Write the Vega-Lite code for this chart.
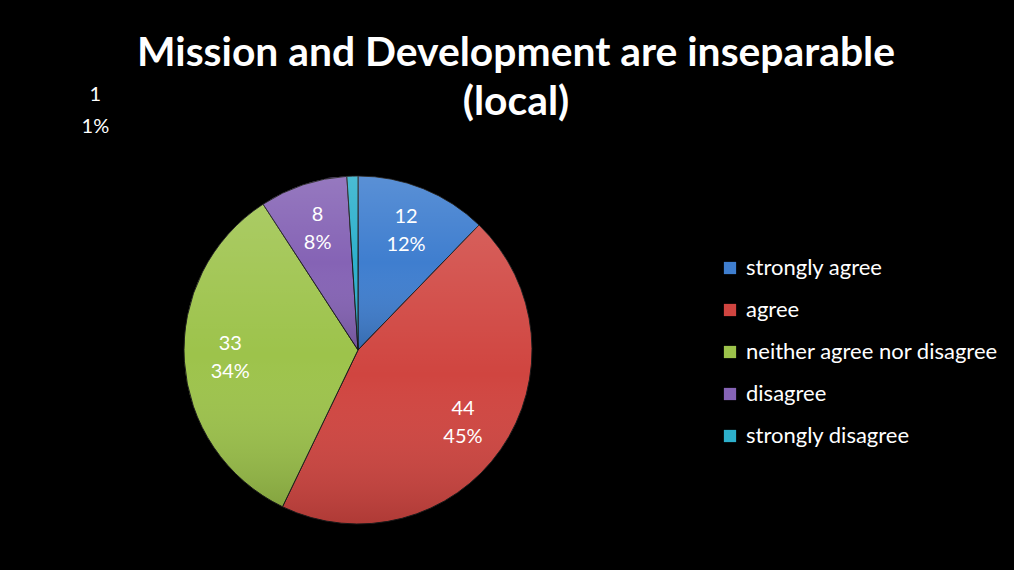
{
  "$schema": "https://vega.github.io/schema/vega-lite/v6.json",
  "autosize": {"type": "none"},
  "width": 348,
  "height": 348,
  "padding": {"left": 184, "top": 176, "right": 482, "bottom": 46},
  "background": "black",
  "title": {
    "text": ["Mission and Development are inseparable", "(local)"],
    "color": "white",
    "font": "Lato",
    "fontSize": 40.8,
    "fontWeight": "bold",
    "lineHeight": 49,
    "anchor": "middle",
    "frame": "group",
    "dx": 158,
    "offset": -39
  },
  "config": {"view": {"stroke": null}},
  "data": {
    "values": [
      {"response": "strongly agree", "count": 12, "pct": "12%", "order": 1},
      {"response": "agree", "count": 44, "pct": "45%", "order": 2},
      {"response": "neither agree nor disagree", "count": 33, "pct": "34%", "order": 3},
      {"response": "disagree", "count": 8, "pct": "8%", "order": 4},
      {"response": "strongly disagree", "count": 1, "pct": "1%", "order": 5}
    ]
  },
  "encoding": {
    "theta": {"field": "count", "type": "quantitative", "stack": true},
    "order": {"field": "order", "type": "quantitative"},
    "color": {
      "field": "response",
      "type": "nominal",
      "scale": {
        "domain": ["strongly agree", "agree", "neither agree nor disagree", "disagree", "strongly disagree"],
        "range": ["#3F7ECF", "#D04540", "#9DC34B", "#8563B5", "#2DB0CC"]
      },
      "legend": {
        "orient": "none",
        "legendX": 535,
        "legendY": 81,
        "title": null,
        "labelColor": "white",
        "labelFont": "Lato",
        "labelFontSize": 22,
        "labelOffset": 5,
        "labelLimit": 400,
        "symbolType": "square",
        "symbolSize": 150,
        "symbolStrokeWidth": 0,
        "rowPadding": 20
      }
    }
  },
  "layer": [
    {"mark": {"type": "arc", "stroke": "#1a1a1a", "strokeWidth": 1}},
    {
      "mark": {
        "type": "arc",
        "strokeWidth": 0,
        "fill": {"gradient": "linear", "x1": 0, "y1": 0, "x2": 0, "y2": 1, "stops": [{"offset": 0, "color": "rgba(255,255,255,0.14)"}, {"offset": 0.5, "color": "rgba(255,255,255,0)"}, {"offset": 1, "color": "rgba(0,0,0,0.16)"}]}
      }
    },
    {
      "mark": {"type": "text", "radius": 128, "dy": -14, "fontSize": 20, "font": "Lato"},
      "encoding": {
        "text": {"field": "count", "type": "quantitative"},
        "color": {"value": "white"},
        "opacity": {"condition": {"test": "datum.count == 1", "value": 0}, "value": 1}
      }
    },
    {
      "mark": {"type": "text", "radius": 128, "dy": 14, "fontSize": 20, "font": "Lato"},
      "encoding": {
        "text": {"field": "pct", "type": "nominal"},
        "color": {"value": "white"},
        "opacity": {"condition": {"test": "datum.count == 1", "value": 0}, "value": 1}
      }
    },
    {
      "mark": {"type": "text", "radius": 239, "dx": -255, "dy": -16, "fontSize": 20, "font": "Lato"},
      "encoding": {
        "text": {"field": "count", "type": "quantitative"},
        "color": {"value": "white"},
        "opacity": {"condition": {"test": "datum.count == 1", "value": 1}, "value": 0}
      }
    },
    {
      "mark": {"type": "text", "radius": 239, "dx": -255, "dy": 16, "fontSize": 20, "font": "Lato"},
      "encoding": {
        "text": {"field": "pct", "type": "nominal"},
        "color": {"value": "white"},
        "opacity": {"condition": {"test": "datum.count == 1", "value": 1}, "value": 0}
      }
    }
  ]
}
